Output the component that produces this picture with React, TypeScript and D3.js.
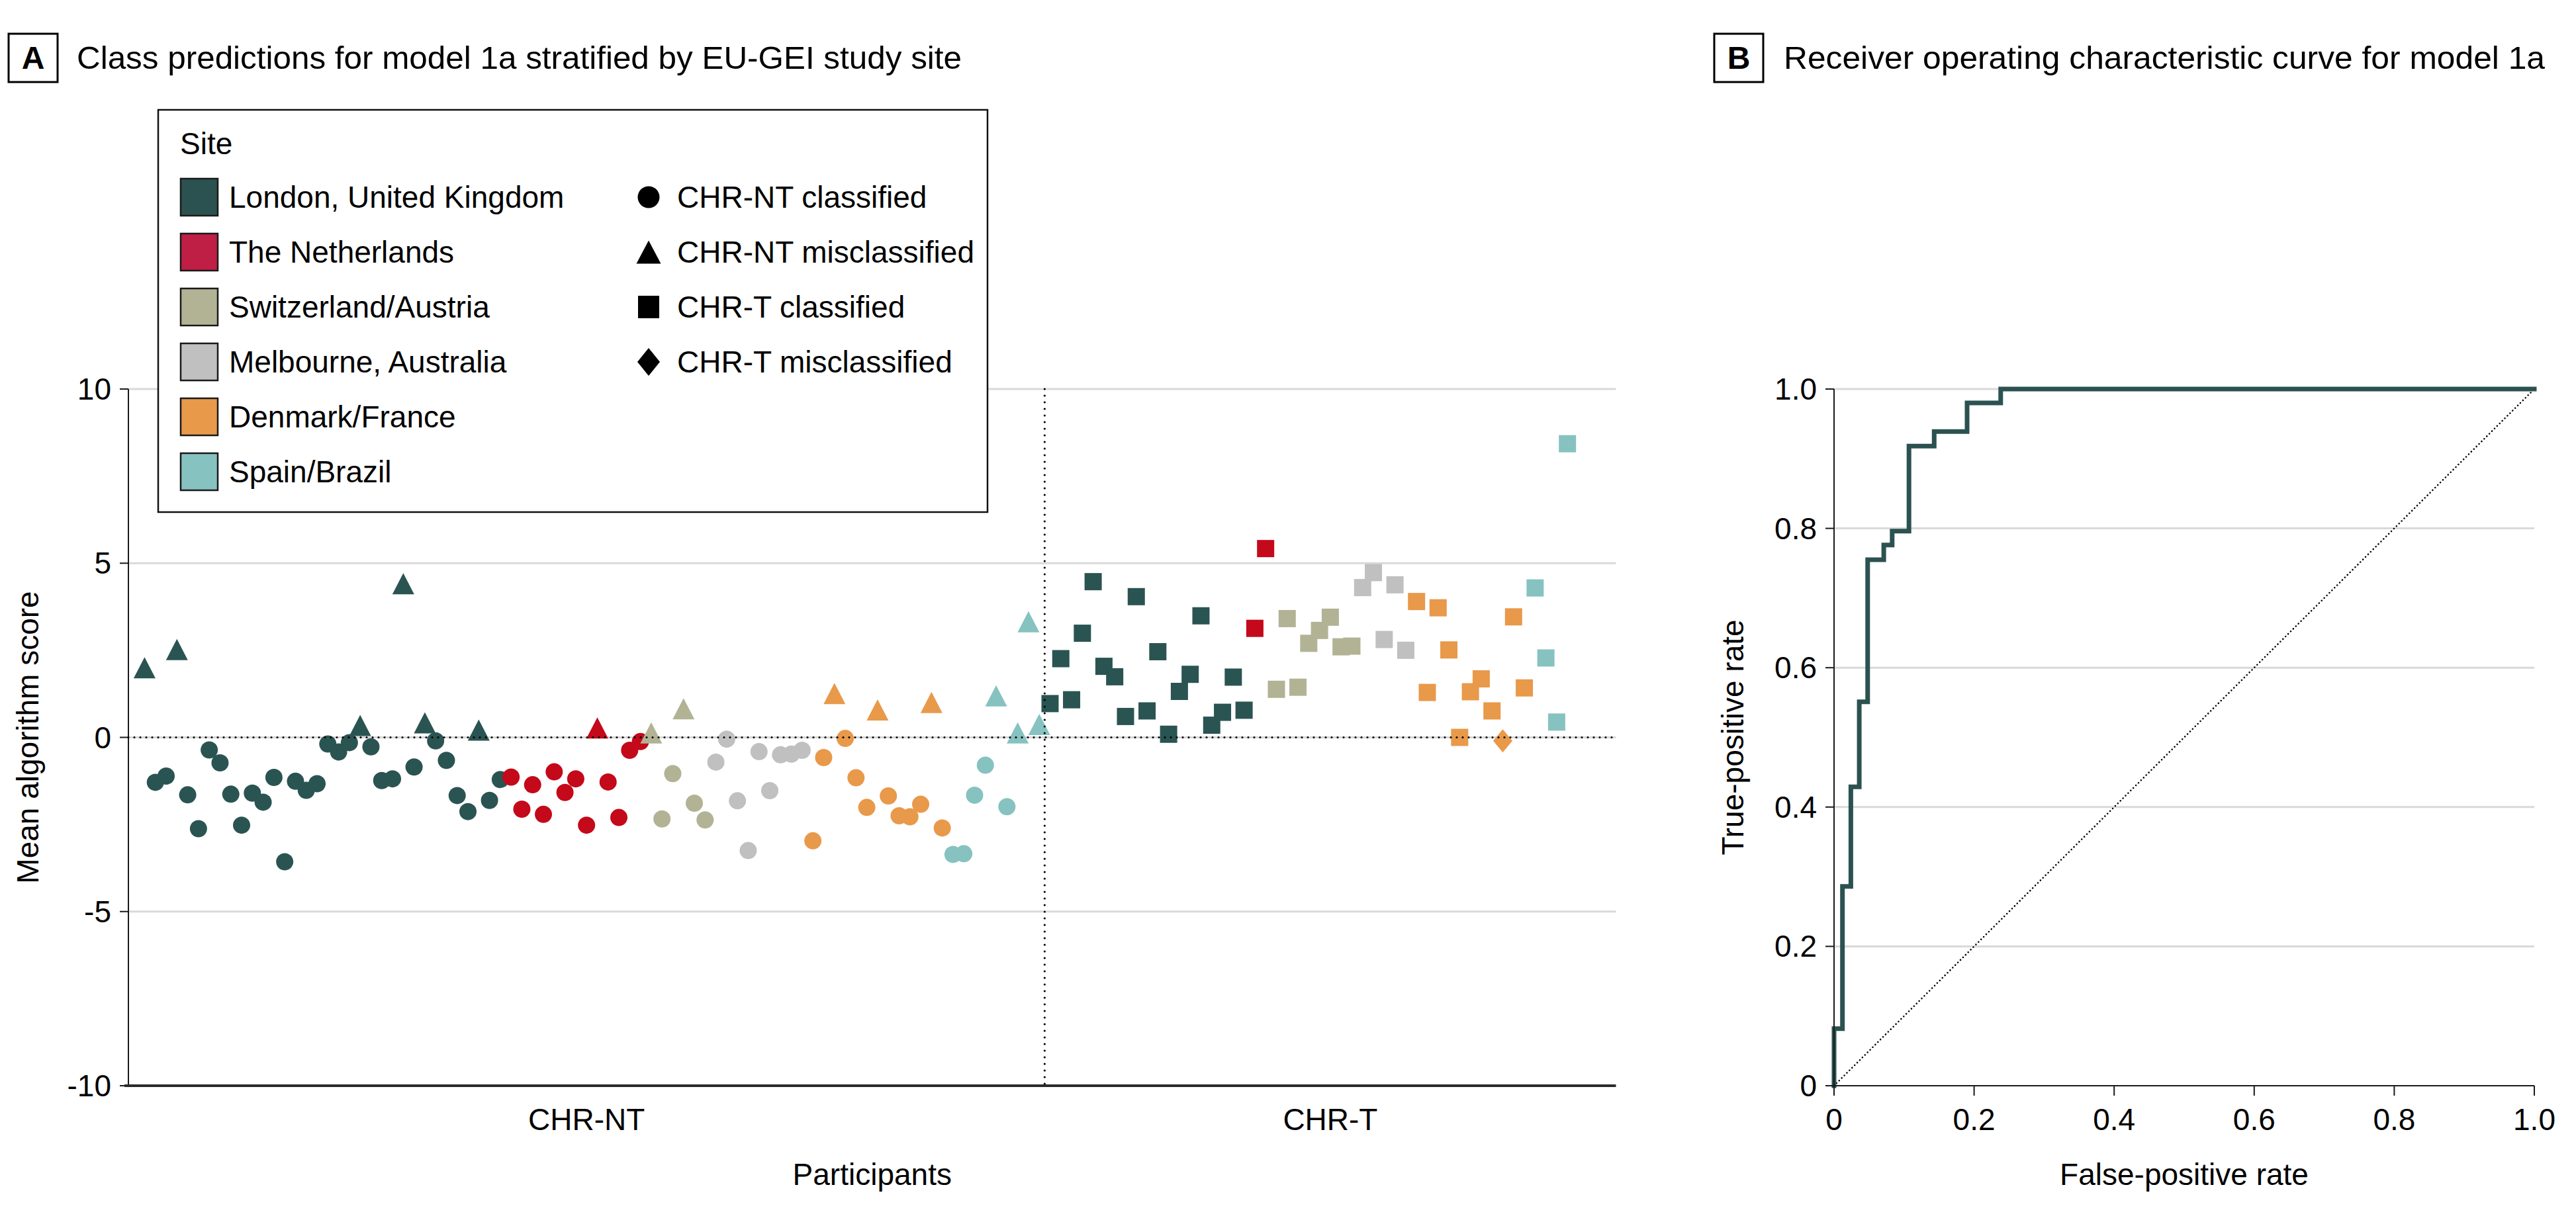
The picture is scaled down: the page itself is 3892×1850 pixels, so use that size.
import React from "react";
import * as d3 from "d3";

const W = 3892;
const H = 1850;

const sites = [
  "London, United Kingdom",
  "The Netherlands",
  "Switzerland/Austria",
  "Melbourne, Australia",
  "Denmark/France",
  "Spain/Brazil",
];
const siteSwatchColors = ["#2b5250", "#c01f45", "#b2b395", "#c0c0c0", "#e8994a", "#86c2c0"];
const siteMarkerColors = ["#2a5452", "#c4091a", "#b2b395", "#c0c0c0", "#e8994a", "#86c2c0"];

const shapeLegend = ["CHR-NT classified", "CHR-NT misclassified", "CHR-T classified", "CHR-T misclassified"];
const groupLabels = ["CHR-NT", "CHR-T"];

// CHR-NT participants (ordered by site)
const chrNtSiteCounts = [34, 13, 6, 9, 13, 9];
const chrNtScores = [
  2.0, -1.29, -1.11, 2.52, -1.65, -2.62, -0.36, -0.73, -1.63, -2.52, -1.6, -1.86, -1.15, -3.57, -1.26, -1.52, -1.33,
  -0.19, -0.42, -0.15, 0.34, -0.27, -1.24, -1.19, 4.41, -0.85, 0.42, -0.1, -0.66, -1.67, -2.13, 0.21, -1.81, -1.21,
  -1.14, -2.06, -1.36, -2.21, -0.99, -1.58, -1.19, -2.52, 0.27, -1.28, -2.3, -0.37, -0.12,
  0.13, -2.34, -1.04, 0.82, -1.89, -2.37,
  -0.71, -0.05, -1.82, -3.25, -0.41, -1.53, -0.5, -0.48, -0.37,
  -2.97, -0.58, 1.26, -0.03, -1.16, -2.01, 0.79, -1.68, -2.25, -2.28, -1.92, 1.0, -2.6,
  -3.36, -3.34, -1.66, -0.8, 1.19, -1.99, 0.13, 3.32, 0.37,
];
const chrNtMisclassified = [1, 4, 21, 25, 27, 32, 43, 48, 51, 65, 69, 74, 80, 82, 83, 84];

// CHR-T participants (ordered by site), numbered after the CHR-NT group
const chrTSiteCounts = [19, 2, 8, 5, 11, 4];
const chrTScores = [
  0.97, 2.26, 1.08, 2.99, 4.47, 2.04, 1.74, 0.6, 4.04, 0.76, 2.46, 0.09, 1.32, 1.81, 3.49, 0.35, 0.72, 1.73, 0.78,
  3.13, 5.42,
  1.38, 3.41, 1.44, 2.7, 3.07, 3.45, 2.6, 2.62,
  4.3, 4.73, 2.81, 4.38, 2.5,
  3.9, 1.29, 3.72, 2.51, 0.0, 1.31, 1.68, 0.76, -0.1, 3.46, 1.42,
  4.29, 2.28, 0.44, 8.43,
];
const chrTMisclassified = [127];

const scoreTicks = [10, 5, 0, -5, -10];
const scoreTickLabels = ["10", "5", "0", "-5", "-10"];

// ROC curve vertices (false-positive rate, true-positive rate)
const rocFpr = [0, 0, 0.012, 0.012, 0.024, 0.024, 0.036, 0.036, 0.048, 0.048, 0.071, 0.071, 0.083, 0.083, 0.107, 0.107, 0.143, 0.143, 0.19, 0.19, 0.238, 0.238, 1.0];
const rocTpr = [0, 0.082, 0.082, 0.286, 0.286, 0.429, 0.429, 0.551, 0.551, 0.755, 0.755, 0.776, 0.776, 0.796, 0.796, 0.918, 0.918, 0.939, 0.939, 0.98, 0.98, 1.0, 1.0];
const rocTicks = [0, 0.2, 0.4, 0.6, 0.8, 1.0];
const rocTickLabels = ["0", "0.2", "0.4", "0.6", "0.8", "1.0"];

const FONT = "'Liberation Sans', Arial, 'DejaVu Sans', sans-serif";
const FS = 46;

function shapePath(kind: number, w: number, h: number): string {
  const p = d3.path();
  if (kind === 0) {
    p.arc(0, 0, w / 2, 0, Math.PI * 2);
  } else if (kind === 1) {
    p.moveTo(0, -h / 2);
    p.lineTo(w / 2, h / 2);
    p.lineTo(-w / 2, h / 2);
    p.closePath();
  } else if (kind === 2) {
    p.rect(-w / 2, -h / 2, w, h);
  } else {
    p.moveTo(0, -h / 2);
    p.lineTo(w / 2, 0);
    p.lineTo(0, h / 2);
    p.lineTo(-w / 2, 0);
    p.closePath();
  }
  return p.toString();
}
const plotSizes = [
  [26, 26],
  [33, 32],
  [26, 26],
  [29, 35],
];
const legendSizes = [
  [33, 33],
  [37, 35],
  [32, 34],
  [34, 42],
];

type P = { num: number; site: number; score: number; kind: number };

function buildParticipants(): P[] {
  const out: P[] = [];
  let n = 1;
  chrNtSiteCounts.forEach((c, s) => {
    for (let i = 0; i < c; i++) {
      out.push({ num: n, site: s, score: chrNtScores[n - 1], kind: chrNtMisclassified.includes(n) ? 1 : 0 });
      n++;
    }
  });
  const offset = n - 1;
  chrTSiteCounts.forEach((c, s) => {
    for (let i = 0; i < c; i++) {
      out.push({ num: n, site: s, score: chrTScores[n - 1 - offset], kind: chrTMisclassified.includes(n) ? 3 : 2 });
      n++;
    }
  });
  return out;
}

export default function App() {
  const participants = buildParticipants();
  const nNt = chrNtScores.length;
  const nTotal = participants.length;

  // Panel A scales
  const ax = d3.scaleLinear().domain([-0.5, nTotal + 4.5]).range([194, 2441.5]);
  const ay = d3.scaleLinear().domain([-10, 10]).range([1641, 588]);
  const [axL, axR] = ax.range();
  const divider = ax(nNt + 0.5);

  // Panel B scales
  const bx = d3.scaleLinear().domain([0, 1]).range([2771, 3829]);
  const by = d3.scaleLinear().domain([0, 1]).range([1641, 588]);
  const rocPts: [number, number][] = rocFpr.map((f, i) => [f, rocTpr[i]]);
  const rocLine = d3
    .line<[number, number]>()
    .x((d) => bx(d[0]))
    .y((d) => by(d[1]))(rocPts);

  const grid = "#d9d9d9";
  const dark = "#1a1a1a";

  const legendRowY = [298, 381, 464, 547, 630, 713];

  return (
    <svg
      width={W}
      height={H}
      viewBox={`0 0 ${W} ${H}`}
      style={{ position: "absolute", left: 0, top: 0, display: "block", background: "#fff" }}
      fontFamily={FONT}
      fontSize={FS}
    >
      <rect x={0} y={0} width={W} height={H} fill="#fff" />

      {/* Panel titles */}
      <rect x={13} y={51} width={74} height={73} fill="none" stroke="#000" strokeWidth={3} />
      <text x={50} y={104} textAnchor="middle" fontWeight="bold" fontSize={48}>A</text>
      <text x={116} y={104} fontSize={48} textLength={1337} lengthAdjust="spacingAndGlyphs">
        Class predictions for model 1a stratified by EU-GEI study site
      </text>

      <rect x={2590} y={51} width={74} height={73} fill="none" stroke="#000" strokeWidth={3} />
      <text x={2627} y={104} textAnchor="middle" fontWeight="bold" fontSize={48}>B</text>
      <text x={2695} y={104} fontSize={48} textLength={1150} lengthAdjust="spacingAndGlyphs">
        Receiver operating characteristic curve for model 1a
      </text>

      {/* Panel A gridlines */}
      {scoreTicks
        .filter((t) => t !== -10)
        .map((t) => (
          <line key={"g" + t} x1={axL} x2={axR} y1={ay(t)} y2={ay(t)} stroke={grid} strokeWidth={3} />
        ))}

      {/* Panel A y axis */}
      <line x1={axL} x2={axL} y1={ay(10)} y2={ay(-10)} stroke={dark} strokeWidth={2} />
      {scoreTicks.map((t, i) => (
        <g key={"yt" + t}>
          <line x1={axL - 13} x2={axL} y1={ay(t)} y2={ay(t)} stroke={dark} strokeWidth={2} />
          <text x={168} y={ay(t)} textAnchor="end" dominantBaseline="central">
            {scoreTickLabels[i]}
          </text>
        </g>
      ))}
      <text
        transform={`translate(42, ${(ay(10) + ay(-10)) / 2}) rotate(-90)`}
        textAnchor="middle"
        dominantBaseline="central"
      >
        Mean algorithm score
      </text>

      {/* Markers */}
      {participants.map((p) => (
        <path
          key={"p" + p.num}
          d={shapePath(p.kind, plotSizes[p.kind][0], plotSizes[p.kind][1])}
          transform={`translate(${ax(p.num)}, ${ay(p.score)})`}
          fill={siteMarkerColors[p.site]}
        />
      ))}

      {/* Reference lines */}
      <line x1={axL} x2={axR} y1={ay(0)} y2={ay(0)} stroke="#000" strokeWidth={3.2} strokeDasharray="0 9" strokeLinecap="round" />
      <line x1={divider} x2={divider} y1={ay(10)} y2={ay(-10)} stroke="#000" strokeWidth={3.2} strokeDasharray="0 10" strokeLinecap="round" />

      {/* Panel A x axis */}
      <line x1={axL - 6} x2={axR} y1={ay(-10)} y2={ay(-10)} stroke="#2b2b2b" strokeWidth={4} />
      <text x={(axL + divider) / 2} y={1708} textAnchor="middle">{groupLabels[0]}</text>
      <text x={(divider + axR) / 2} y={1708} textAnchor="middle">{groupLabels[1]}</text>
      <text x={(axL + axR) / 2} y={1791} textAnchor="middle">Participants</text>

      {/* Legend */}
      <rect x={239} y={166} width={1253} height={608} fill="#fff" stroke="#111" strokeWidth={2.5} />
      <text x={272} y={233}>Site</text>
      {sites.map((s, i) => (
        <g key={"ls" + i}>
          <rect x={273} y={legendRowY[i] - 28} width={56} height={56} fill={siteSwatchColors[i]} stroke="#1a1a1a" strokeWidth={2.5} />
          <text x={346} y={legendRowY[i]} dominantBaseline="central">{s}</text>
        </g>
      ))}
      {shapeLegend.map((s, i) => (
        <g key={"lm" + i}>
          <path d={shapePath(i, legendSizes[i][0], legendSizes[i][1])} transform={`translate(980, ${legendRowY[i]})`} fill="#000" />
          <text x={1023} y={legendRowY[i]} dominantBaseline="central">{s}</text>
        </g>
      ))}

      {/* Panel B */}
      {rocTicks
        .filter((t) => t > 0)
        .map((t) => (
          <line key={"bg" + t} x1={bx(0)} x2={bx(1)} y1={by(t)} y2={by(t)} stroke={grid} strokeWidth={3} />
        ))}
      <line x1={bx(0)} x2={bx(1)} y1={by(0)} y2={by(1)} stroke="#000" strokeWidth={2.6} strokeDasharray="0 5.5" strokeLinecap="round" />
      <path d={rocLine || ""} fill="none" stroke="#2b5250" strokeWidth={7} strokeLinejoin="miter" strokeLinecap="square" />
      <line x1={bx(0)} x2={bx(0)} y1={by(0)} y2={by(1)} stroke={dark} strokeWidth={2} />
      <line x1={bx(0)} x2={bx(1)} y1={by(0)} y2={by(0)} stroke={dark} strokeWidth={2} />
      {rocTicks.map((t, i) => (
        <g key={"bt" + t}>
          <line x1={bx(0) - 13} x2={bx(0)} y1={by(t)} y2={by(t)} stroke={dark} strokeWidth={2} />
          <text x={2745} y={by(t)} textAnchor="end" dominantBaseline="central">{rocTickLabels[i]}</text>
          <line x1={bx(t)} x2={bx(t)} y1={by(0)} y2={by(0) + 15} stroke={dark} strokeWidth={2} />
          <text x={bx(t)} y={1708} textAnchor="middle">{rocTickLabels[i]}</text>
        </g>
      ))}
      <text x={(bx(0) + bx(1)) / 2} y={1791} textAnchor="middle">False-positive rate</text>
      <text
        transform={`translate(2618, ${(by(0) + by(1)) / 2}) rotate(-90)`}
        textAnchor="middle"
        dominantBaseline="central"
      >
        True-positive rate
      </text>
    </svg>
  );
}
